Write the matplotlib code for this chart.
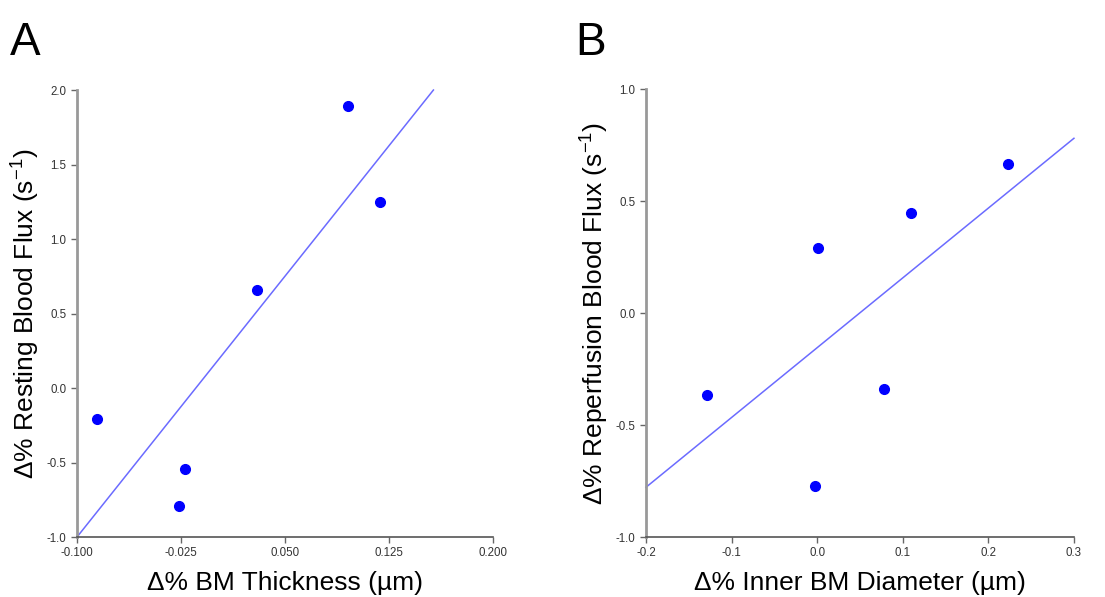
import matplotlib
matplotlib.use('Agg')
import matplotlib.pyplot as plt

plt.rcParams['font.family'] = ['Liberation Sans', 'DejaVu Sans']
plt.rcParams['mathtext.fontset'] = 'custom'
plt.rcParams['mathtext.rm'] = 'Liberation Sans'

# Panel A data
thick_x = [-0.0854, -0.0262, -0.0223, 0.0296, 0.0952, 0.1185]
rest_y = [-0.208, -0.792, -0.546, 0.658, 1.893, 1.246]
fitA_x = [-0.100, 0.157]
fitA_y = [-1.0, 2.0]
ticksA_x = [-0.100, -0.025, 0.050, 0.125, 0.200]
labelsA_x = ['-0.100', '-0.025', '0.050', '0.125', '0.200']
ticksA_y = [-1.0, -0.5, 0.0, 0.5, 1.0, 1.5, 2.0]

# Panel B data
diam_x = [-0.129, -0.0026, 0.0006, 0.0784, 0.110, 0.2225]
rep_y = [-0.365, -0.771, 0.290, -0.339, 0.448, 0.665]
fitB_x = [-0.2, 0.3]
fitB_y = [-0.778, 0.780]
ticksB_x = [-0.2, -0.1, 0.0, 0.1, 0.2, 0.3]
ticksB_y = [-1.0, -0.5, 0.0, 0.5, 1.0]

fig = plt.figure(figsize=(11.05, 5.97), dpi=100)
axA = fig.add_axes([0.0697, 0.1005, 0.3765, 0.7487])
axB = fig.add_axes([0.5846, 0.1005, 0.3873, 0.7504])


def style_axis(ax):
    ax.spines['top'].set_visible(False)
    ax.spines['right'].set_visible(False)
    ax.spines['left'].set_color('#999999')
    ax.spines['left'].set_linewidth(2.0)
    ax.spines['bottom'].set_color('#555555')
    ax.spines['bottom'].set_linewidth(1.2)
    ax.tick_params(direction='out', length=4, width=1, colors='#666666',
                   labelcolor='#333333', labelsize=8.3)


# A
axA.plot(fitA_x, fitA_y, color='#6b6bff', lw=1.1, zorder=2, clip_on=False)
axA.plot(thick_x, rest_y, 'o', color='#0000ff', ms=7, zorder=3, clip_on=False)
axA.set_xlim(-0.100, 0.200)
axA.set_ylim(-1.0, 2.0)
axA.set_xticks(ticksA_x)
axA.set_xticklabels(labelsA_x)
axA.set_yticks(ticksA_y)
axA.set_yticklabels(['%.1f' % v for v in ticksA_y])
style_axis(axA)
axA.set_xlabel('Δ% BM Thickness (µm)', fontsize=19, labelpad=8)
axA.set_ylabel(r'Δ% Resting Blood Flux (s$^{\mathregular{-1}}$)', fontsize=19, labelpad=4)

# B
axB.plot(fitB_x, fitB_y, color='#6b6bff', lw=1.1, zorder=2, clip_on=False)
axB.plot(diam_x, rep_y, 'o', color='#0000ff', ms=7, zorder=3, clip_on=False)
axB.set_xlim(-0.2, 0.3)
axB.set_ylim(-1.0, 1.0)
axB.set_xticks(ticksB_x)
axB.set_xticklabels(['%.1f' % v for v in ticksB_x])
axB.set_yticks(ticksB_y)
axB.set_yticklabels(['%.1f' % v for v in ticksB_y])
style_axis(axB)
axB.set_xlabel('Δ% Inner BM Diameter (µm)', fontsize=19, labelpad=8)
axB.set_ylabel(r'Δ% Reperfusion Blood Flux (s$^{\mathregular{-1}}$)', fontsize=19, labelpad=4)

fig.text(0.009, 0.908, 'A', fontsize=33, va='baseline', ha='left')
fig.text(0.521, 0.908, 'B', fontsize=33, va='baseline', ha='left')

fig.savefig('out.png', dpi=100)
